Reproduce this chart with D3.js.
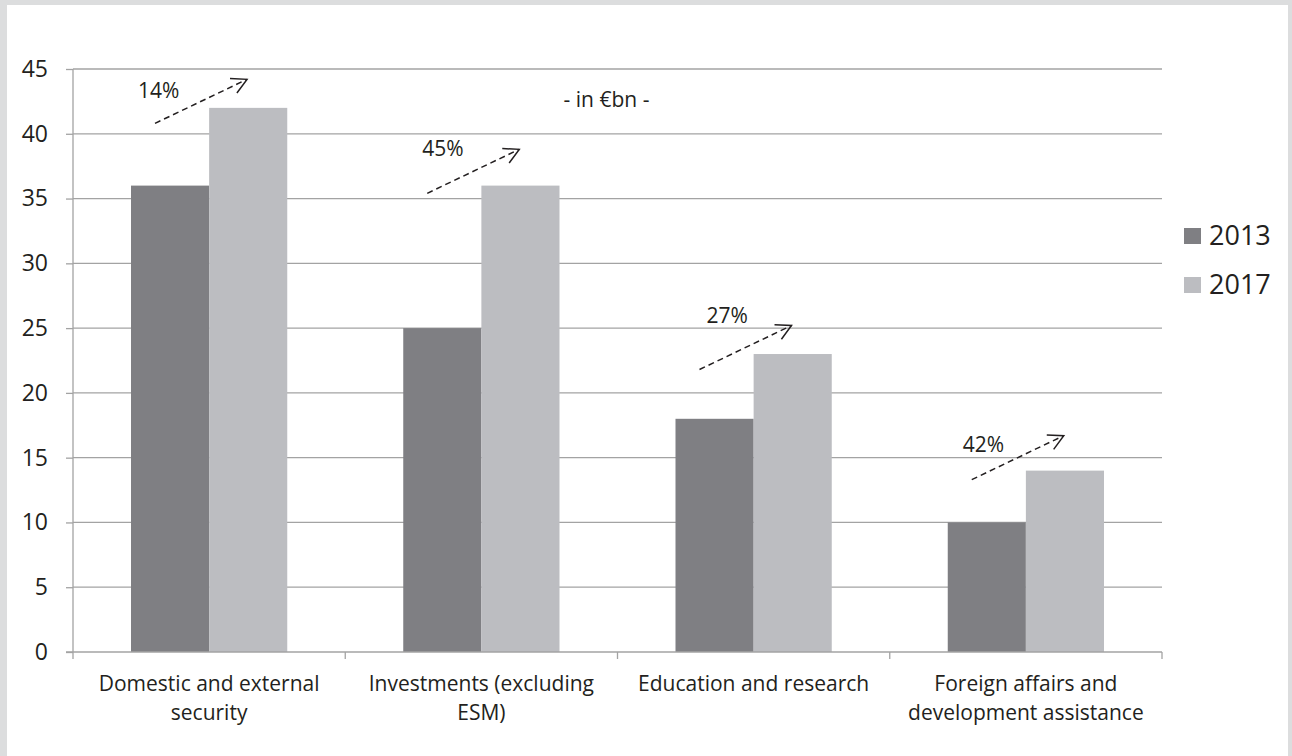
<!DOCTYPE html>
<html>
<head>
<meta charset="utf-8">
<script src="https://cdn.jsdelivr.net/npm/d3@7"></script>
<style>
  html, body { margin: 0; padding: 0; background: #dcddde; }
  svg { display: block; }
  text { font-family: "Open Sans", sans-serif; fill: #231f20; }
</style>
</head>
<body>
<div id="chart"></div>
<script>
const categories = ['Domestic and external security', 'Investments (excluding ESM)', 'Education and research', 'Foreign affairs and development assistance'];
const categoryLines = [['Domestic and external', 'security'], ['Investments (excluding', 'ESM)'], ['Education and research'], ['Foreign affairs and', 'development assistance']];
const seriesNames = ['2013', '2017'];
const values2013 = [36, 25, 18, 10];
const values2017 = [42, 36, 23, 14];
const yTicks = [0, 5, 10, 15, 20, 25, 30, 35, 40, 45];
const pctLabels = ['14%', '45%', '27%', '42%'];
// arrow tip and label height in data units
const arrowTip = [44.2, 38.8, 25.2, 16.7];
const labelLevel = [42.8, 38.3, 25.4, 15.4];

const width = 1292, height = 756;
const margin = {top: 69, right: 130, bottom: 104, left: 73};
const colors = {'2013': '#7f7f83', '2017': '#bcbdc1'};

const svg = d3.select('#chart').append('svg')
  .attr('width', width)
  .attr('height', height);

// white panel inside grey frame
svg.append('rect')
  .attr('x', 7).attr('y', 5)
  .attr('width', 1281).attr('height', height)
  .attr('fill', '#fff');

const x0 = d3.scaleBand()
  .domain(categories)
  .range([margin.left, width - margin.right]);

const x1 = d3.scaleBand()
  .domain(seriesNames)
  .range([58, x0.bandwidth() - 58]);

const y = d3.scaleLinear()
  .domain([0, 45])
  .range([height - margin.bottom, margin.top]);

// grid
svg.append('g')
  .selectAll('line')
  .data(yTicks.filter(d => d > 0))
  .enter().append('line')
  .attr('x1', margin.left).attr('x2', width - margin.right)
  .attr('y1', d => y(d)).attr('y2', d => y(d))
  .attr('stroke', '#a3a3a3').attr('stroke-width', 1.3);

// y axis
const yAxis = d3.axisLeft(y).tickValues(yTicks).tickSize(7).tickPadding(18);
const gy = svg.append('g')
  .attr('transform', `translate(${margin.left},0)`)
  .call(yAxis);
gy.select('.domain').remove();
gy.selectAll('.tick line').attr('stroke', '#a3a3a3').attr('stroke-width', 1.3);
gy.selectAll('.tick text').attr('font-size', 23).attr('font-family', '"Open Sans", sans-serif').attr('fill', '#231f20');
svg.append('line')
  .attr('x1', margin.left).attr('x2', margin.left)
  .attr('y1', y(45)).attr('y2', y(0) + 7)
  .attr('stroke', '#a3a3a3').attr('stroke-width', 1.3);

// bars
const rows = categories.map((c, i) => ({cat: c, vals: [{k: '2013', v: values2013[i]}, {k: '2017', v: values2017[i]}]}));
const grp = svg.append('g').selectAll('g')
  .data(rows)
  .enter().append('g')
  .attr('transform', d => `translate(${x0(d.cat)},0)`);

grp.selectAll('rect')
  .data(d => d.vals)
  .enter().append('rect')
  .attr('x', d => x1(d.k))
  .attr('width', x1.bandwidth())
  .attr('y', d => y(d.v))
  .attr('height', d => y(0) - y(d.v))
  .attr('fill', d => colors[d.k]);

// x axis
const boundaries = categories.map(c => x0(c)).concat([x0.range()[1]]);
svg.append('line')
  .attr('x1', margin.left - 7).attr('x2', width - margin.right)
  .attr('y1', y(0)).attr('y2', y(0))
  .attr('stroke', '#a3a3a3').attr('stroke-width', 1.3);
svg.append('g').selectAll('line')
  .data(boundaries.slice(1))
  .enter().append('line')
  .attr('x1', d => d).attr('x2', d => d)
  .attr('y1', y(0)).attr('y2', y(0) + 7)
  .attr('stroke', '#a3a3a3').attr('stroke-width', 1.3);

const xl = svg.append('g').selectAll('text')
  .data(categories)
  .enter().append('text')
  .attr('x', d => x0(d) + x0.bandwidth() / 2)
  .attr('y', y(0) + 39)
  .attr('text-anchor', 'middle')
  .attr('font-size', 21);
xl.selectAll('tspan')
  .data((d, i) => categoryLines[i])
  .enter().append('tspan')
  .attr('x', function() { return this.parentNode.getAttribute('x'); })
  .attr('dy', (d, i) => i === 0 ? 0 : 29)
  .text(d => d);

// unit note
svg.append('text')
  .attr('x', (x0.range()[0] + x0.range()[1]) / 2 - 11)
  .attr('y', 107)
  .attr('text-anchor', 'middle')
  .attr('font-size', 21)
  .text('- in €bn -');

// growth arrows
const defs = svg.append('defs');
defs.append('marker')
  .attr('id', 'head')
  .attr('viewBox', '-18 -10 20 20')
  .attr('markerWidth', 20).attr('markerHeight', 20)
  .attr('markerUnits', 'userSpaceOnUse')
  .attr('orient', 'auto')
  .append('path')
  .attr('d', 'M-15,-8 L0,0 L-15,8')
  .attr('fill', 'none')
  .attr('stroke', '#231f20')
  .attr('stroke-width', 1.5);

const ann = svg.append('g').selectAll('g')
  .data(categories)
  .enter().append('g');

ann.append('line')
  .attr('x1', (d, i) => x0(d) + 174 - 92)
  .attr('y1', (d, i) => y(arrowTip[i]) + 44)
  .attr('x2', (d, i) => x0(d) + 174)
  .attr('y2', (d, i) => y(arrowTip[i]))
  .attr('stroke', '#231f20')
  .attr('stroke-width', 1.5)
  .attr('stroke-dasharray', '6,4')
  .attr('marker-end', 'url(#head)');

const labelOffset = [65, 77, 89, 73];
ann.append('text')
  .attr('x', (d, i) => x0(d) + labelOffset[i])
  .attr('y', (d, i) => y(labelLevel[i]))
  .attr('font-size', 21)
  .text((d, i) => pctLabels[i]);

// legend
const leg = svg.append('g').selectAll('g')
  .data(seriesNames)
  .enter().append('g')
  .attr('transform', (d, i) => `translate(1184,${228 + i * 49})`);
leg.append('rect')
  .attr('width', 17).attr('height', 16)
  .attr('fill', d => colors[d]);
leg.append('text')
  .attr('x', 25).attr('y', 17)
  .attr('font-size', 27)
  .text(d => d);
</script>
</body>
</html>
